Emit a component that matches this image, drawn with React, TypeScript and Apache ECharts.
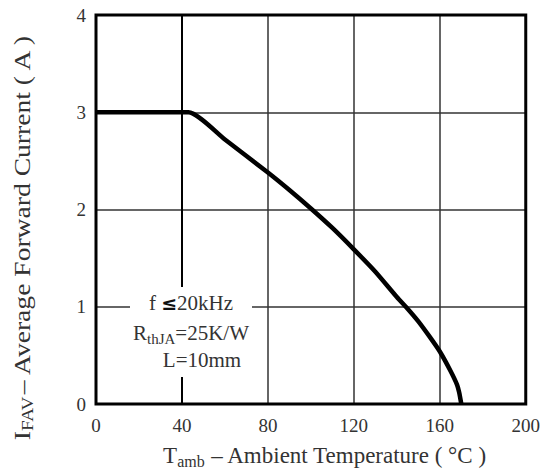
import React, { useEffect, useRef } from "react";
import * as echarts from "echarts";

const temps = [0, 43, 60, 80, 90, 100, 110, 120, 130, 140, 145, 150, 155, 160, 165, 168, 169, 170];
const current = [3, 3, 2.72, 2.38, 2.2, 2.01, 1.81, 1.59, 1.36, 1.1, 0.98, 0.85, 0.7, 0.54, 0.34, 0.2, 0.12, 0];
const xTicks = [0, 40, 80, 120, 160, 200];
const yTicks = [0, 1, 2, 3, 4];

const FONT = "'Liberation Serif', 'Times New Roman', serif";
const TXT = "#333";

export default function App() {
  const ref = useRef<HTMLDivElement>(null);
  useEffect(() => {
    if (!ref.current) return;
    const chart = echarts.init(ref.current, undefined, { renderer: "svg" });
    chart.setOption({
      animation: false,
      backgroundColor: "#fff",
      grid: {
        left: 96,
        right: 16,
        top: 15,
        bottom: 68,
        show: true,
        borderColor: "#000",
        borderWidth: 3,
        z: 3,
      },
      xAxis: {
        type: "value",
        min: xTicks[0],
        max: xTicks[xTicks.length - 1],
        interval: 40,
        axisLine: { show: false },
        axisTick: { show: false },
        splitLine: { show: true, lineStyle: { color: "#333", width: 1.5 } },
        axisLabel: {
          fontFamily: FONT,
          fontSize: 19,
          color: TXT,
          margin: 12,
          formatter: (v: number) => (v === 200 ? "{r|200}" : String(v)),
          rich: { r: { fontFamily: FONT, fontSize: 19, color: TXT, padding: [0, 0, 10, 0] } },
        },
      },
      yAxis: {
        type: "value",
        min: yTicks[0],
        max: yTicks[yTicks.length - 1],
        interval: 1,
        axisLine: { show: false },
        axisTick: { show: false },
        splitLine: { show: true, lineStyle: { color: "#333", width: 1.5 } },
        axisLabel: {
          fontFamily: FONT,
          fontSize: 19,
          color: TXT,
          margin: 10,
        },
      },
      series: [
        {
          type: "line",
          data: temps.map((t, i) => [t, current[i]]),
          showSymbol: false,
          smooth: 0.2,
          lineStyle: { color: "#000", width: 4.5 },
          z: 4,
          markLine: {
            silent: true,
            symbol: "none",
            label: { show: false },
            lineStyle: { color: "#000", width: 2, type: "solid" },
            data: [{ xAxis: 40 }],
          },
        },
      ],
      graphic: [
        { type: "rect", shape: { x: 130, y: 287, width: 122, height: 90 }, style: { fill: "#fff" }, z: 10 },
        {
          type: "text",
          x: 191,
          y: 303,
          style: {
            text: "{m|f }{b|≤}{m|20kHz}",
            align: "center",
            verticalAlign: "middle",
            rich: {
              m: { fontFamily: FONT, fontSize: 21, fill: TXT, lineHeight: 26 },
              b: { fontFamily: "'DejaVu Sans', sans-serif", fontSize: 19, fontWeight: "bold", fill: "#111", lineHeight: 26 },
            },
          },
          z: 11,
        },
        {
          type: "text",
          x: 191,
          y: 333,
          style: {
            text: "{m|R}{s|thJA}{m|=25K/W}",
            align: "center",
            verticalAlign: "middle",
            rich: {
              m: { fontFamily: FONT, fontSize: 21, fill: TXT, lineHeight: 26 },
              s: { fontFamily: FONT, fontSize: 15, fill: TXT, lineHeight: 15, verticalAlign: "bottom" },
            },
          },
          z: 11,
        },
        {
          type: "text",
          x: 202,
          y: 360,
          style: {
            text: "L=10mm",
            fontFamily: FONT,
            fontSize: 21,
            fill: TXT,
            align: "center",
            verticalAlign: "middle",
          },
          z: 11,
        },
        {
          type: "text",
          x: 325,
          y: 455,
          style: {
            text: "{m|T}{s|amb}{m| – Ambient Temperature ( °C )}",
            align: "center",
            verticalAlign: "middle",
            rich: {
              m: { fontFamily: FONT, fontSize: 23, fill: TXT, lineHeight: 28 },
              s: { fontFamily: FONT, fontSize: 16, fill: TXT, lineHeight: 16, verticalAlign: "bottom" },
            },
          },
          z: 11,
        },
        {
          type: "text",
          x: 22,
          y: 237,
          rotation: Math.PI / 2,
          scaleX: 1.2,
          style: {
            text: "{m|I}{s|FAV}{m|– Average Forward Current ( A )}",
            align: "center",
            verticalAlign: "middle",
            rich: {
              m: { fontFamily: FONT, fontSize: 23, fill: TXT, lineHeight: 28 },
              s: { fontFamily: FONT, fontSize: 16, fill: TXT, lineHeight: 16, verticalAlign: "bottom" },
            },
          },
          z: 11,
        },
      ],
    });
    return () => chart.dispose();
  }, []);
  return <div ref={ref} style={{ width: 543, height: 472, position: "absolute", left: 0, top: 0 }} />;
}
